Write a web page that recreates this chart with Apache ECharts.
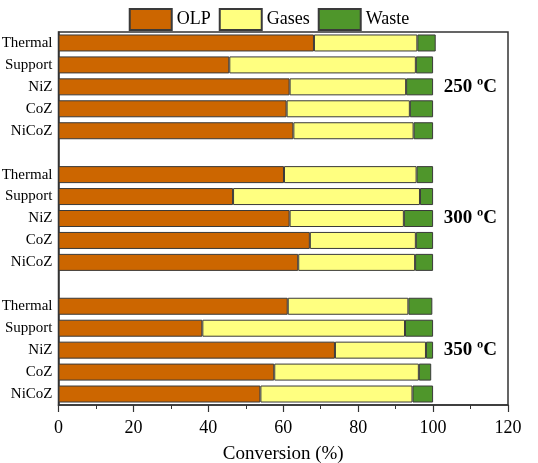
<!DOCTYPE html>
<html>
<head>
<meta charset="utf-8">
<script src="https://cdn.jsdelivr.net/npm/echarts@6/dist/echarts.min.js"></script>
<style>
  html, body { margin: 0; padding: 0; background: #fff; }
  #chart { width: 538px; height: 463px; }
</style>
</head>
<body>
<div id="chart"></div>
<script>
// rows top to bottom, '' = gap between temperature groups
const categories = [
  'Thermal', 'Support', 'NiZ', 'CoZ', 'NiCoZ', '',
  'Thermal', 'Support', 'NiZ', 'CoZ', 'NiCoZ', '',
  'Thermal', 'Support', 'NiZ', 'CoZ', 'NiCoZ',
];
const tempLabels = [
  '', '', '250 ºC', '', '', '',
  '', '', '300 ºC', '', '', '',
  '', '', '350 ºC', '', '',
];
const olp = [
  68.2, 45.6, 61.7, 60.9, 62.7, null,
  60.2, 46.6, 61.7, 67.1, 64.0, null,
  61.2, 38.4, 73.8, 57.6, 53.9,
];
const gases = [
  27.6, 49.8, 31.1, 32.9, 32.1, null,
  35.4, 49.9, 30.5, 28.3, 31.2, null,
  32.2, 54.1, 24.3, 38.6, 40.6,
];
const waste = [
  4.9, 4.6, 7.2, 6.2, 5.2, null,
  4.4, 3.5, 7.8, 4.6, 4.8, null,
  6.4, 7.5, 1.9, 3.3, 5.5,
];

const serif = '"Liberation Serif", "Times New Roman", serif';
const axisColor = '#333';

const barSeries = (name, data, color) => ({
  name,
  type: 'bar',
  stack: 'total',
  barWidth: 17,
  data,
  itemStyle: {
    color,
    borderColor: '#3a3a3a',
    borderWidth: 1,
  },
});

const option = {
  animation: false,
  backgroundColor: '#fff',
  legend: {
    top: 3,
    left: 'center',
    itemWidth: 42,
    itemHeight: 21,
    itemGap: 8,
    icon: 'rect',
    textStyle: {
      fontFamily: serif,
      fontSize: 18,
      color: '#000',
    },
  },
  grid: {
    left: 58.5,
    right: 30,
    top: 32,
    bottom: 58,
    outerBoundsMode: 'none',
    containLabel: false,
    show: true,
    borderColor: axisColor,
    borderWidth: 1.5,
  },
  xAxis: {
    type: 'value',
    min: 0,
    max: 120,
    interval: 20,
    name: 'Conversion (%)',
    nameLocation: 'middle',
    nameGap: 40,
    nameTextStyle: {
      fontFamily: serif,
      fontSize: 19,
      color: '#000',
    },
    axisLine: { show: true, lineStyle: { color: axisColor, width: 1.5 } },
    axisTick: { show: true, length: 7, lineStyle: { color: axisColor, width: 1.2 } },
    minorTick: { show: true, splitNumber: 2, length: 4, lineStyle: { color: axisColor, width: 1 } },
    splitLine: { show: false },
    axisLabel: {
      fontFamily: serif,
      fontSize: 18,
      color: '#000',
      margin: 14,
    },
  },
  yAxis: [
    {
      type: 'category',
      data: categories,
      inverse: true,
      axisLine: { show: true, lineStyle: { color: axisColor, width: 1.5 } },
      axisTick: { show: false },
      axisLabel: {
        fontFamily: serif,
        fontSize: 15,
        color: '#000',
        margin: 6,
        interval: 0,
      },
    },
    {
      type: 'category',
      data: tempLabels,
      inverse: true,
      position: 'right',
      axisLine: { show: false },
      axisTick: { show: false },
      axisLabel: {
        inside: true,
        interval: 0,
        margin: 11,
        fontFamily: serif,
        fontSize: 19,
        fontWeight: 'bold',
        color: '#000',
      },
    },
  ],
  series: [
    barSeries('OLP', olp, '#cc6600'),
    barSeries('Gases', gases, '#ffff80'),
    barSeries('Waste', waste, '#4f962b'),
  ],
};

const chart = echarts.init(document.getElementById('chart'));
chart.setOption(option);
</script>
</body>
</html>
